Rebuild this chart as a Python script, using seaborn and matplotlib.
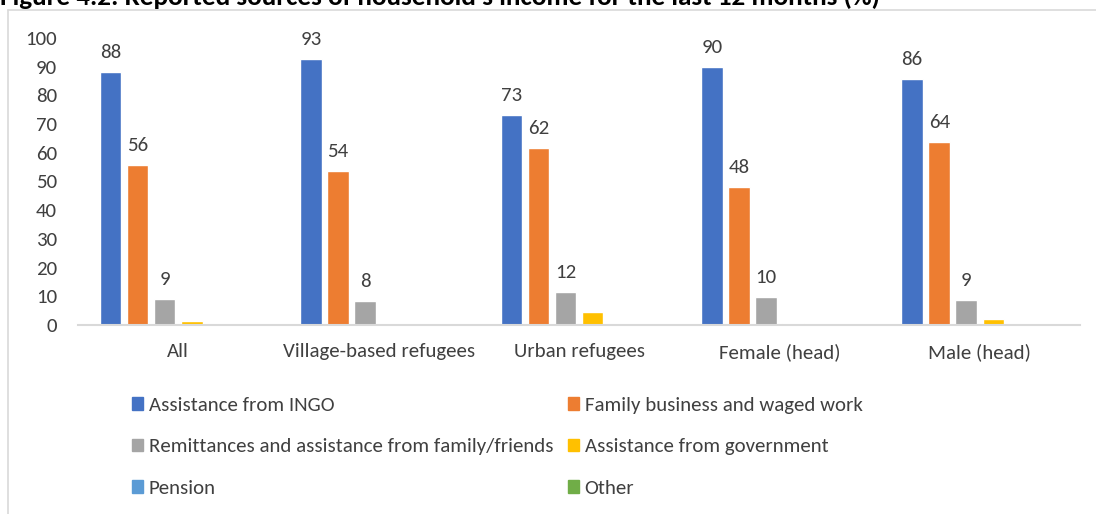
import matplotlib
matplotlib.use("Agg")
import matplotlib.pyplot as plt
from matplotlib.patches import Rectangle
from matplotlib.lines import Line2D
import seaborn as sns
import pandas as pd

groups = ["All", "Village-based refugees", "Urban refugees", "Female (head)", "Male (head)"]
sources = [
    "Assistance from INGO",
    "Family business and waged work",
    "Remittances and assistance from family/friends",
    "Assistance from government",
    "Pension",
    "Other",
]
ingo = [88.0, 92.6, 73.0, 90.0, 85.8]
family_work = [55.6, 53.6, 61.5, 48.2, 63.6]
remittances = [9.0, 8.4, 11.6, 9.6, 8.6]
government = [1.4, 0.5, 4.4, 0.8, 2.1]
pension = [0.0, 0.0, 0.4, 0.3, 0.0]
other = [0.0, 0.0, 0.5, 0.0, 0.0]
labelled = ["Assistance from INGO", "Family business and waged work",
            "Remittances and assistance from family/friends"]

colors = ["#4472C4", "#ED7D31", "#A5A5A5", "#FFC000", "#5B9BD5", "#70AD47"]

series = [ingo, family_work, remittances, government, pension, other]
rows = []
for src, vals in zip(sources, series):
    for g, v in zip(groups, vals):
        rows.append({"group": g, "source": src, "value": v})
df = pd.DataFrame(rows)

sns.set_theme(style="white")
plt.rcParams["font.family"] = ["Carlito", "Lato", "DejaVu Sans"]
text_color = "#404040"
fs = 15
W, H = 1096, 514

fig = plt.figure(figsize=(W / 100, H / 100), dpi=100)
ax = fig.add_axes([78 / W, 1 - 325 / H, (1080 - 78) / W, (325 - 38) / H])

sns.barplot(data=df, x="group", y="value", hue="source", order=groups,
            hue_order=sources, palette=colors, width=0.81, gap=0.2,
            saturation=1, ax=ax, legend=False, errorbar=None)

for container, src in zip(ax.containers, sources):
    if src in labelled:
        ax.bar_label(container, labels=[f"{v:.0f}" for v in container.datavalues],
                     padding=8, fontsize=fs, color=text_color)

ax.set_ylim(0, 100)
ax.set_xlim(-0.5, len(groups) - 0.5)
ax.set_yticks(range(0, 101, 10))
ax.set_xlabel("")
ax.set_ylabel("")
ax.tick_params(axis="y", labelsize=fs, labelcolor=text_color, length=0, pad=15)
ax.tick_params(axis="x", labelsize=fs, labelcolor=text_color, length=0, pad=13)
for s in ["top", "right", "left"]:
    ax.spines[s].set_visible(False)
ax.spines["bottom"].set_color("#D9D9D9")
ax.spines["bottom"].set_linewidth(1.5)

# legend laid out row by row in two columns
handles = [Rectangle((0, 0), 1, 1, color=c) for c in colors]
legend_kw = dict(loc="upper left", frameon=False,
                 prop={"family": ["Carlito", "Lato", "DejaVu Sans"], "size": fs},
                 labelcolor=text_color, handlelength=0.55, handleheight=0.55,
                 handletextpad=0.25, labelspacing=1.17, borderpad=0, borderaxespad=0)
fig.legend(handles[0::2], sources[0::2], bbox_to_anchor=(132 / W, 1 - 397 / H), **legend_kw)
fig.legend(handles[1::2], sources[1::2], bbox_to_anchor=(568 / W, 1 - 397 / H), **legend_kw)

# chart frame
fig.add_artist(Line2D([8 / W, 1], [1 - 10 / H, 1 - 10 / H], color="#D9D9D9", lw=1.2,
                      transform=fig.transFigure))
fig.add_artist(Line2D([8 / W, 8 / W], [0, 1 - 10 / H], color="#D9D9D9", lw=1.2,
                      transform=fig.transFigure))

fig.text(0.0, 1 - 5 / H, "Figure 4.2: Reported sources of household's income for the last 12 months (%)",
         fontsize=19.5, fontweight="bold", color="#000000", ha="left", va="baseline")

fig.savefig("out.png", dpi=100, facecolor="white")
